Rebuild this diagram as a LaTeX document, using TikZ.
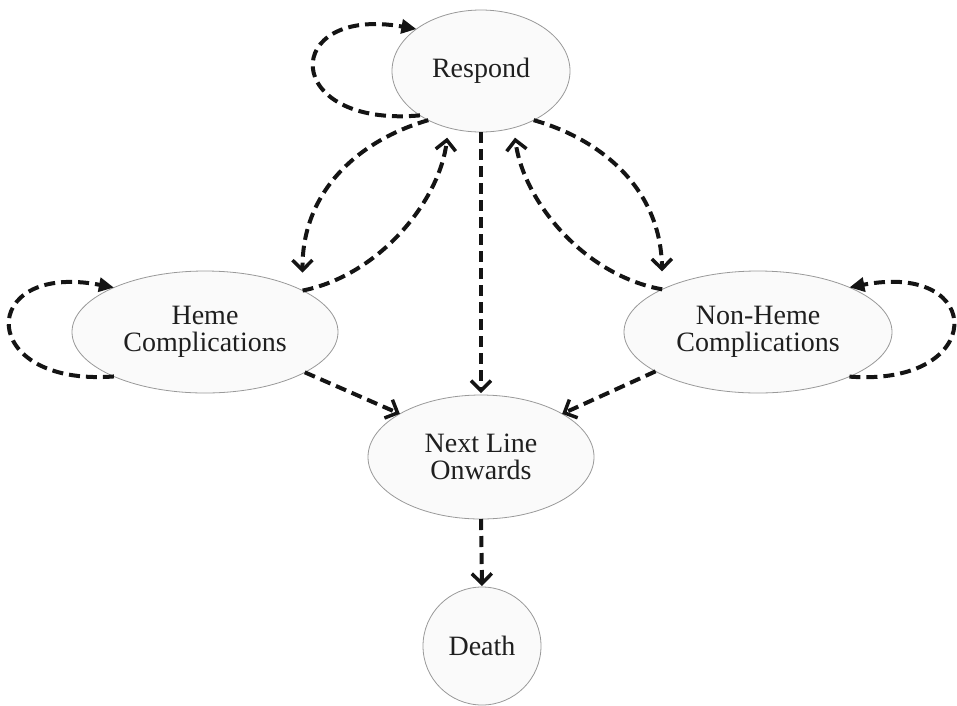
\documentclass[tikz,border=0pt]{standalone}
\usepackage{fontspec}
\setmainfont{Liberation Serif}
\usetikzlibrary{shapes.geometric,arrows.meta}
\tikzset{
  stnode/.style={ellipse, draw=black!40, fill=black!2, line width=0.8pt,
    inner sep=0pt, outer sep=0pt, align=center, text=black!88,
    font=\fontsize{28}{27}\selectfont},
  flow/.style={line width=4pt, dash pattern=on 11pt off 6pt, draw=black!92,
    -{Straight Barb[length=10pt,width=20pt,line width=3.5pt]}},
  selfloop/.style={line width=4pt, dash pattern=on 11pt off 6pt, draw=black!92,
    -{Triangle[length=15pt,width=14pt]}}
}
\begin{document}
\begin{tikzpicture}[x=1pt,y=-1pt]
\useasboundingbox (0,0) rectangle (957,705);
\node[stnode, minimum width=178pt, minimum height=122pt] (resp) at (481,71) {Respond};
\node[stnode, minimum width=266pt, minimum height=122pt] (heme) at (205,332) {Heme\\Complications};
\node[stnode, minimum width=268pt, minimum height=122pt] (nonheme) at (758,332) {Non-Heme\\Complications};
\node[stnode, minimum width=226pt, minimum height=124pt] (next) at (481,457) {Next Line\\Onwards};
\node[stnode, circle, minimum size=118pt] (death) at (482,646) {Death};

% self loops
\draw[selfloop] (resp.216) .. controls (280,128) and (280,5) .. (resp.147);
\draw[selfloop] (heme.206) .. controls (-24,387) and (-24,261) .. (heme.154);
\draw[selfloop] (nonheme.334) .. controls (987,387) and (987,261) .. (nonheme.26);

% respond <-> heme
\draw[flow, shorten >=18pt] (resp.223) .. controls (360,140) and (302,190) .. (heme.23.4);
\draw[flow, shorten >=10pt] (heme.23.4) .. controls (380,275) and (440,200) .. (resp.240);
% respond <-> non-heme
\draw[flow, shorten >=18pt] (resp.317) .. controls (603,140) and (661,190) .. (nonheme.156.6);
\draw[flow, shorten >=10pt] (nonheme.156.6) .. controls (583,275) and (523,200) .. (resp.300);

% to next line
\draw[flow, shorten >=2pt] (resp.south) -- (next.north);
\draw[flow] (heme.338.2) -- (next.152);
\draw[flow] (nonheme.201.8) -- (next.28);
\draw[flow, shorten >=1pt] (next.south) -- (death.north);
\end{tikzpicture}
\end{document}
